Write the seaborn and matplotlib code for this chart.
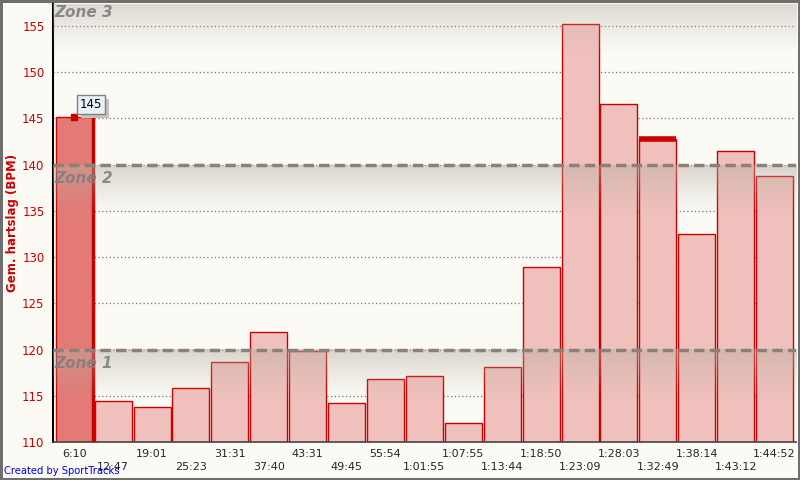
"""
Gemiddelde hartslag per split (SportTracks-stijl)
"""

import numpy as np
import pandas as pd
import matplotlib
matplotlib.use('Agg')
import matplotlib.pyplot as plt
import matplotlib.patheffects as pe
import seaborn as sns

# data
split_labels = ['6:10', '12:47', '19:01', '25:23', '31:31', '37:40', '43:31', '49:45',
                '55:54', '1:01:55', '1:07:55', '1:13:44', '1:18:50', '1:23:09',
                '1:28:03', '1:32:49', '1:38:14', '1:43:12', '1:44:52']
avg_hr = [145.2, 114.4, 113.8, 115.8, 118.7, 121.9, 119.9, 114.2, 116.8, 117.2,
          112.1, 118.1, 128.9, 155.2, 146.6, 142.8, 132.5, 141.5, 138.8]
zone_names = ['Zone 1', 'Zone 2', 'Zone 3']
zone_limits = [120, 140, 157.4]
y_ticks = [110, 115, 120, 125, 130, 135, 140, 145, 150, 155]

df = pd.DataFrame({'split': split_labels, 'hr': avg_hr})

sns.set_style('white')
plt.rcParams['font.family'] = ['DejaVu Sans']

BG = '#fbfaf5'
RED = '#cc0000'

fig = plt.figure(figsize=(8, 4.8), dpi=100, facecolor=BG,
                 edgecolor='#6e6e6e', linewidth=2.5)
ax = fig.add_axes([0.066, 0.079, 0.929, 0.913])
ax.set_facecolor(BG)

ymin, ymax = 110, 157.4
x0, x1 = -0.55, len(split_labels) - 0.45

# horizontal dotted grid
for t in y_ticks:
    ax.axhline(t, color='#777777', lw=0.9, ls=(0, (1, 2)), zorder=0)

# bars
sns.barplot(data=df, x='split', y='hr', color='#f0c0bc', width=0.95,
            edgecolor=RED, linewidth=1.0, saturation=1, ax=ax, zorder=2)
bars = ax.patches
bars[0].set_facecolor('#e37a76')
# thick right edge on selected bar
ax.plot([0.475, 0.475], [ymin, avg_hr[0]], color=RED, lw=2.5, zorder=3)
# thick top on bar 16
ax.plot([15 - 0.475, 15 + 0.475], [avg_hr[15], avg_hr[15]], color=RED, lw=4,
        zorder=3, solid_capstyle='butt')


# zone gradients (drawn over the bars)
def gradient(y_top, height, alpha_top=0.55):
    n = 64
    rgba = np.zeros((n, 1, 4))
    rgba[..., 0] = 0.72
    rgba[..., 1] = 0.69
    rgba[..., 2] = 0.64
    rgba[:, 0, 3] = np.linspace(alpha_top, 0, n) ** 1.2
    ax.imshow(rgba, extent=[x0, x1, y_top - height, y_top],
              aspect='auto', origin='upper', zorder=4, interpolation='bilinear')


gradient(zone_limits[0], 5.5)
gradient(zone_limits[1], 5.5)
gradient(zone_limits[2], 5.5, 0.5)
ax.set_ylim(ymin, ymax)
ax.set_xlim(x0, x1)

for z in zone_limits[:2]:
    ax.axhline(z, color='#8c8078', lw=2.5, ls=(0, (3, 1.5)), zorder=5)

label_y = [119.3, 139.3, 157.3]
for name, yy in zip(zone_names, label_y):
    ax.text(-0.52, yy, name, fontsize=11, fontweight='bold', fontstyle='italic',
            color='#7f7f7f', va='top', ha='left', zorder=6, alpha=0.9)

# selected point + label (with shadow)
ax.plot(0, avg_hr[0], marker='s', color=RED, ms=4.5, zorder=7)
lbl = ax.text(0.14, 146.5, '145', fontsize=8.5, color='black', va='center',
              ha='left', zorder=8,
              bbox=dict(boxstyle='square,pad=0.25', fc='#e8f0f8',
                        ec='#808080', lw=1))
lbl.get_bbox_patch().set_path_effects([
    pe.SimplePatchShadow(offset=(3, -3), shadow_rgbFace='#c8c4bc', alpha=1),
    pe.Normal()])

# axes styling
for s in ['top', 'right']:
    ax.spines[s].set_visible(False)
ax.spines['left'].set_color('black')
ax.spines['left'].set_linewidth(1.5)
ax.spines['bottom'].set_color('#444444')
ax.spines['bottom'].set_linewidth(1.2)

ax.set_yticks(y_ticks)
ax.set_yticklabels([str(t) for t in y_ticks], color=RED, fontsize=8.5)
ax.tick_params(axis='y', length=4, width=1, color='black', pad=2)

even = list(range(0, len(split_labels), 2))
odd = list(range(1, len(split_labels), 2))
ax.set_xticks(even)
ax.set_xticklabels([split_labels[i] for i in even], fontsize=8)
ax.set_xticks(odd, minor=True)
ax.set_xticklabels([split_labels[i] for i in odd], minor=True, fontsize=8)
ax.tick_params(axis='x', which='major', length=4, width=1, color='black', pad=1)
ax.tick_params(axis='x', which='minor', length=14, width=1, color='black', pad=0.5)

ax.set_xlabel('')
ax.set_ylabel('Gem. hartslag (BPM)', color=RED, fontsize=8.5, fontweight='bold',
              labelpad=2)

fig.text(0.005, 0.008, 'Created by SportTracks', color='#0000ee', fontsize=7.2,
         ha='left', va='bottom')

fig.savefig('out.png', dpi=100, facecolor=BG, edgecolor='#6e6e6e')
